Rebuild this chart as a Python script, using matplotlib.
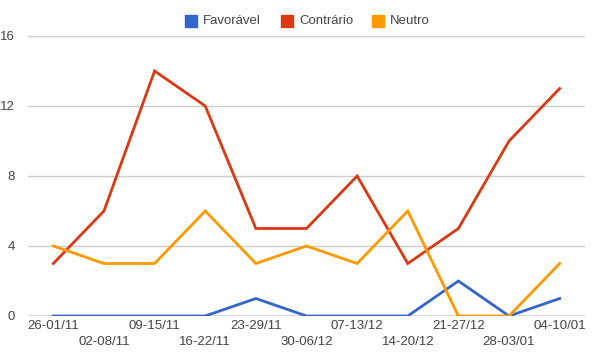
import matplotlib
matplotlib.use("Agg")
import matplotlib.pyplot as plt
from matplotlib.patches import Rectangle

categories = ["26-01/11", "02-08/11", "09-15/11", "16-22/11", "23-29/11", "30-06/12",
              "07-13/12", "14-20/12", "21-27/12", "28-03/01", "04-10/01"]
favoravel = [0, 0, 0, 0, 1, 0, 0, 0, 2, 0, 1]
contrario = [3, 6, 14, 12, 5, 5, 8, 3, 5, 10, 13]
neutro = [4, 3, 3, 6, 3, 4, 3, 6, 0, 0, 3]
series_names = ["Favorável", "Contrário", "Neutro"]
colors = ["#3366CC", "#DC3912", "#FF9900"]
yticks = [0, 4, 8, 12, 16]

plt.rcParams['font.family'] = ['Liberation Sans', 'DejaVu Sans']
W, H = 597, 360
fig = plt.figure(figsize=(W / 100, H / 100), dpi=100)
ax = fig.add_axes([28 / W, 1 - 316 / H, (585 - 28) / W, (316 - 36) / H])

n = len(categories)
x = list(range(n))
for t in yticks[1:]:
    ax.axhline(t, color="#CCCCCC", lw=1, zorder=0)
ax.axhline(0, color="#333333", lw=1, zorder=1)

for vals, c in zip([favoravel, contrario, neutro], colors):
    ax.plot(x, vals, color=c, lw=2, zorder=3, solid_joinstyle="miter")

ax.set_xlim(-0.5, n - 0.5)
ax.set_ylim(0, 16)
for s in ax.spines.values():
    s.set_visible(False)
ax.set_yticks(yticks)
ax.set_yticklabels([str(t) for t in yticks], fontsize=9.5, color="#444444")
ax.tick_params(axis="y", length=0, pad=9.4)
ax.set_xticks(x)
ax.set_xticklabels([c if i % 2 == 0 else "\n" + c for i, c in enumerate(categories)],
                   fontsize=9.5, color="#444444", linespacing=1.38)
ax.tick_params(axis="x", length=0, pad=3)

# legend
leg_x = [185, 281, 372]
for name, c, lx in zip(series_names, colors, leg_x):
    fig.patches.append(Rectangle((lx / W, 1 - 27 / H), 12 / W, 12 / H,
                                 transform=fig.transFigure, color=c))
    fig.text((lx + 18) / W, 1 - 21 / H, name, fontsize=9.5, color="#444444",
             va="center", ha="left")

fig.savefig("out.png", dpi=100)
